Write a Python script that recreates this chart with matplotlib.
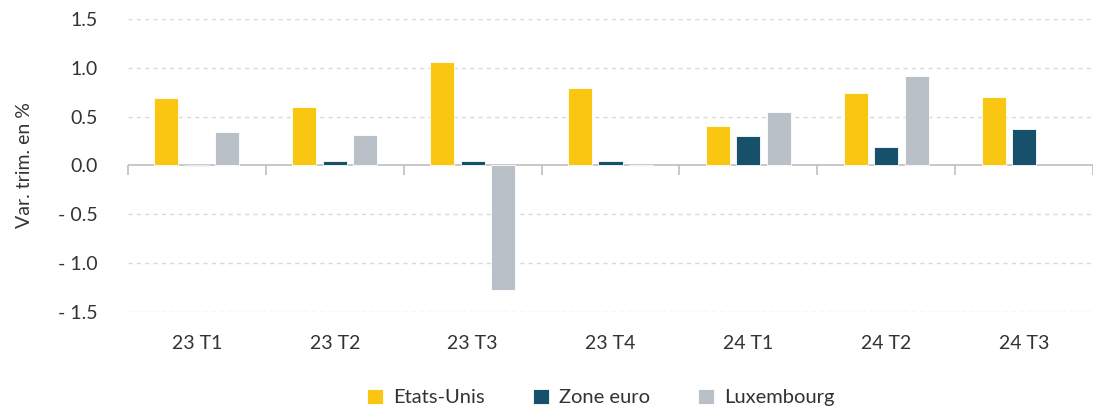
import matplotlib
matplotlib.use("Agg")
import matplotlib.pyplot as plt
import numpy as np
from matplotlib.ticker import FuncFormatter, MultipleLocator, FixedLocator, NullFormatter

plt.rcParams["font.family"] = ["Lato", "DejaVu Sans"]

# données (variation trimestrielle, %)
QUARTERS = ["23 T1", "23 T2", "23 T3", "23 T4", "24 T1", "24 T2", "24 T3"]
ETATS_UNIS = [0.69, 0.60, 1.06, 0.79, 0.40, 0.74, 0.70]
ZONE_EURO = [-0.01, 0.05, 0.05, 0.05, 0.30, 0.19, 0.37]
LUXEMBOURG = [0.34, 0.31, -1.28, -0.01, 0.55, 0.92, np.nan]

SERIES = [("Etats-Unis", ETATS_UNIS, "#F9C611"),
          ("Zone euro", ZONE_EURO, "#17506A"),
          ("Luxembourg", LUXEMBOURG, "#BAC0C7")]

TXT = "#333333"

fig = plt.figure(figsize=(10.93, 4.12), dpi=100)
ax = fig.add_axes([0.117, 0.243, 0.883, 0.711])

x = np.arange(len(QUARTERS))
step, width = 0.221, 0.175
for k, (name, vals, col) in enumerate(SERIES):
    ax.bar(x + (k - 1) * step, vals, width, color=col, label=name,
           edgecolor="white", linewidth=0.6, zorder=3)

ax.set_xlim(-0.5, len(QUARTERS) - 0.5)
ax.set_ylim(-1.5, 1.5)
ax.yaxis.set_major_locator(MultipleLocator(0.5))
ax.yaxis.set_major_formatter(FuncFormatter(
    lambda v, _: f"- {abs(v):.1f}" if v < -1e-9 else f"{abs(v):.1f}"))

# grille pointillée (sauf 0)
for v in np.arange(-1.5, 1.51, 0.5):
    if abs(v) > 1e-9:
        ax.axhline(v, color="#D9D9D9", lw=1, ls=(0, (3, 3)), zorder=1)
ax.axhline(0, color="#BFBFBF", lw=1.2, zorder=2)

for s in ax.spines.values():
    s.set_visible(False)

ax.set_xticks(x)
ax.set_xticklabels(QUARTERS)
ax.tick_params(axis="x", length=0, pad=17, labelsize=14, labelcolor=TXT)
ax.tick_params(axis="y", length=0, pad=22, labelsize=14, labelcolor=TXT)

# repères entre trimestres sous l'axe zéro
sec = ax.secondary_xaxis(0.5)
for s in sec.spines.values():
    s.set_visible(False)
sec.xaxis.set_ticks_position("bottom")
sec.xaxis.set_major_locator(FixedLocator(np.arange(-0.5, len(QUARTERS), 1.0)))
sec.xaxis.set_major_formatter(NullFormatter())
sec.tick_params(axis="x", direction="out", length=7, width=1.2, color="#BFBFBF",
                labelbottom=False, labeltop=False)

ax.set_ylabel("Var. trim. en %", fontsize=14, color=TXT, labelpad=18)

ax.legend(loc="upper center", bbox_to_anchor=(0.49, -0.2), ncol=3,
          frameon=False, fontsize=14.5, handlelength=0.8, handleheight=0.8,
          columnspacing=2.4, handletextpad=0.5, labelcolor=TXT)

fig.savefig("out.png", dpi=100)
